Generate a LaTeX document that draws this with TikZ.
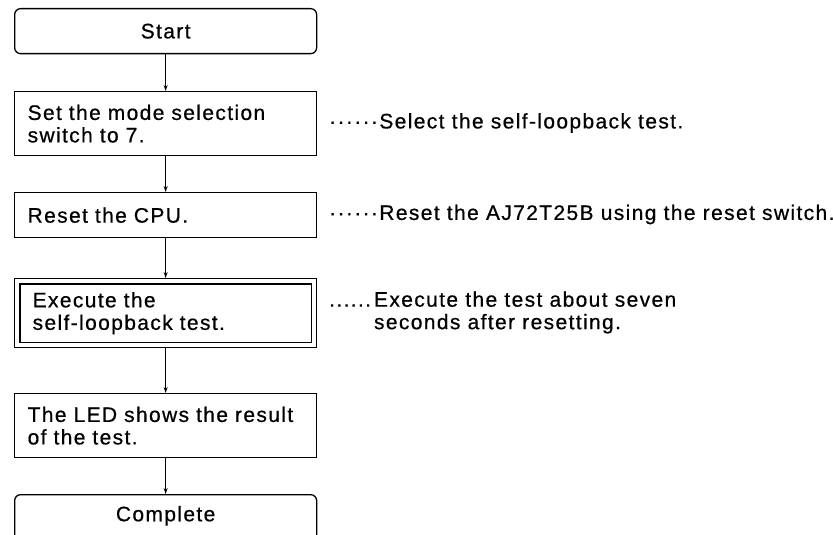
\documentclass[tikz,border=0pt]{standalone}
\usepackage{fontspec}
\setmainfont{Liberation Sans}[LetterSpace=6.5, FakeBold=0.6]
\usetikzlibrary{arrows.meta}
\begin{document}
\begin{tikzpicture}[x=1pt,y=1pt,
  every node/.style={font=\fontsize{21}{22.5}\selectfont},
  flowbox/.style={draw, line width=1.3pt, minimum width=302pt, text width=276pt, inner xsep=13pt, inner ysep=0pt, align=left, anchor=north west},
  termbox/.style={draw, line width=1.3pt, rounded corners=6pt, minimum width=302pt, inner ysep=0pt, align=center, anchor=north west},
  flowarrow/.style={line width=1pt, -{Stealth[length=6pt,width=4pt]}},
  note/.style={anchor=west, align=left, inner sep=0pt}
]
\useasboundingbox (0,0) rectangle (833,-535);
\node[termbox, minimum height=45pt] (start) at (14,-8) {Start};
\node[flowbox, minimum height=64pt] (mode) at (14,-91) {Set the mode selection\\switch to 7.};
\node[flowbox, minimum height=45pt] (reset) at (14,-192) {Reset the CPU.};
\node[flowbox, minimum height=69pt, inner xsep=18pt, text width=266pt] (exec) at (14,-278) {Execute the\\self-loopback test.};
\draw[line width=1.3pt] ([shift={(6pt,-6pt)}]exec.north west) rectangle ([shift={(-6pt,6pt)}]exec.south east);
\node[flowbox, minimum height=64pt] (led) at (14,-393) {The LED shows the result\\of the test.};
\node[termbox, minimum height=50pt, text depth=12pt] (done) at (14,-494) {Complete};

\draw[flowarrow] (start.south) -- (mode.north);
\draw[flowarrow] (mode.south) -- (reset.north);
\draw[flowarrow] (reset.south) -- (exec.north);
\draw[flowarrow] (exec.south) -- (led.north);
\draw[flowarrow] (led.south) -- (done.north);

\node[note] (n1) at (329,-123) {······Select the self-loopback test.};
\node[note] (n2) at (329,-214.5) {······Reset the AJ72T25B using the reset switch.};
\node[note] (n3) at (329,-312.5) {......\hspace{3pt}Execute the test about seven\\\phantom{......}\hspace{3pt}seconds after resetting.};
\end{tikzpicture}
\end{document}
